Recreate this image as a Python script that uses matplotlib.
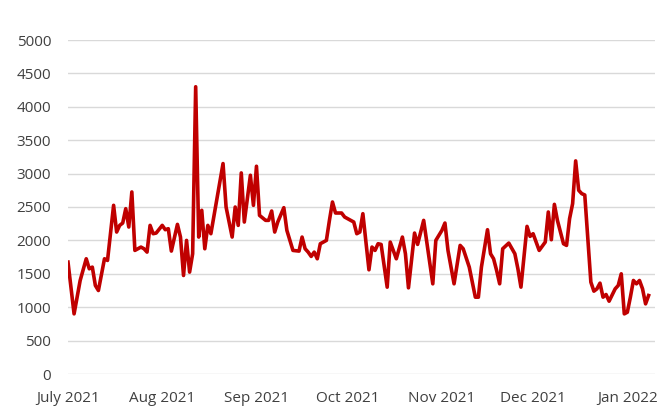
import matplotlib
matplotlib.use("Agg")
import matplotlib.pyplot as plt
import matplotlib.dates as mdates
import numpy as np
import pandas as pd

start = "2021-07-01"
day_offset = [0, 2, 4, 6, 7, 8, 9, 10, 12, 13, 15, 16, 17, 18, 19, 20, 21, 22, 24, 25,
              26, 27, 28, 29, 31, 32, 33, 34, 36, 37, 38, 39, 40, 41, 42, 43, 44, 45, 46, 47,
              51, 52, 54, 55, 56, 57, 58, 60, 61, 62, 63, 65, 66, 67, 68, 69, 71, 72, 74, 76,
              77, 78, 79, 80, 81, 82, 83, 85, 86, 87, 88, 90, 91, 93, 94, 95, 96, 97, 99, 100,
              101, 102, 103, 105, 106, 108, 110, 111, 112, 114, 115, 117, 120, 121, 123, 124, 125, 127, 129, 130,
              132, 134, 135, 136, 138, 139, 140, 141, 142, 143, 145, 147, 148, 149, 151, 152, 153, 155, 157, 158,
              159, 160, 161, 163, 164, 165, 166, 167, 168, 169, 170, 172, 173, 174, 175, 176, 177, 178, 180, 181,
              182, 183, 184, 185, 186, 187, 188, 189, 190, 191]
values = [1675, 900, 1400, 1725, 1575, 1600, 1325, 1250, 1725, 1700, 2525, 2125, 2225, 2260, 2475, 2200, 2725, 1850, 1900, 1875,
          1825, 2225, 2100, 2110, 2225, 2160, 2175, 1840, 2240, 2050, 1475, 2000, 1525, 1800, 4300, 2050, 2450, 1875, 2225, 2100,
          3150, 2500, 2050, 2500, 2225, 3010, 2275, 2975, 2525, 3110, 2375, 2300, 2300, 2440, 2125, 2275, 2490, 2150, 1850, 1840,
          2050, 1875, 1825, 1760, 1825, 1725, 1950, 2000, 2300, 2575, 2410, 2410, 2350, 2300, 2275, 2100, 2125, 2400, 1560, 1900,
          1850, 1950, 1940, 1300, 1975, 1725, 2050, 1800, 1290, 2110, 1940, 2300, 1350, 2000, 2150, 2260, 1850, 1350, 1925, 1875,
          1600, 1150, 1150, 1600, 2160, 1800, 1725, 1550, 1350, 1875, 1960, 1800, 1575, 1300, 2210, 2060, 2100, 1850, 1975, 2425,
          2010, 2540, 2300, 1950, 1925, 2325, 2550, 3190, 2750, 2700, 2680, 1375, 1240, 1275, 1360, 1150, 1190, 1090, 1275, 1325,
          1500, 900, 925, 1150, 1400, 1350, 1400, 1275, 1050, 1175]

month_ticks = ["2021-07-01", "2021-08-01", "2021-09-01", "2021-10-01", "2021-11-01", "2021-12-01", "2022-01-01"]
month_labels = ["July 2021", "Aug 2021", "Sep 2021", "Oct 2021", "Nov 2021", "Dec 2021", "Jan 2022"]
y_ticks = [0, 500, 1000, 1500, 2000, 2500, 3000, 3500, 4000, 4500, 5000]

dates = pd.Timestamp(start) + pd.to_timedelta(day_offset, unit="D")

plt.rcParams['font.family'] = ['Open Sans', 'DejaVu Sans']

fig = plt.figure(figsize=(6.72, 4.16), dpi=100)
ax = fig.add_axes([68 / 672, 1 - 374 / 416, (655 - 68) / 672, 334 / 416])

ax.plot(dates, values, color="#C00000", lw=2.6, solid_joinstyle="round", zorder=3)

x0 = pd.Timestamp(start)
ax.set_xlim(x0, x0 + pd.Timedelta(days=193.1))
ax.set_ylim(0, 5000)
ax.set_yticks(y_ticks)
ax.set_yticklabels([str(v) for v in y_ticks])
ax.set_xticks(pd.to_datetime(month_ticks))
ax.set_xticklabels(month_labels)

ax.grid(axis="y", color="#D9D9D9", lw=1)
ax.set_axisbelow(True)
for s in ax.spines.values():
    s.set_visible(False)
ax.tick_params(axis="both", length=0, labelsize=11, colors="#404040")
ax.tick_params(axis="y", pad=12)
ax.tick_params(axis="x", pad=12)

fig.savefig("out.png", dpi=100, facecolor="white")
